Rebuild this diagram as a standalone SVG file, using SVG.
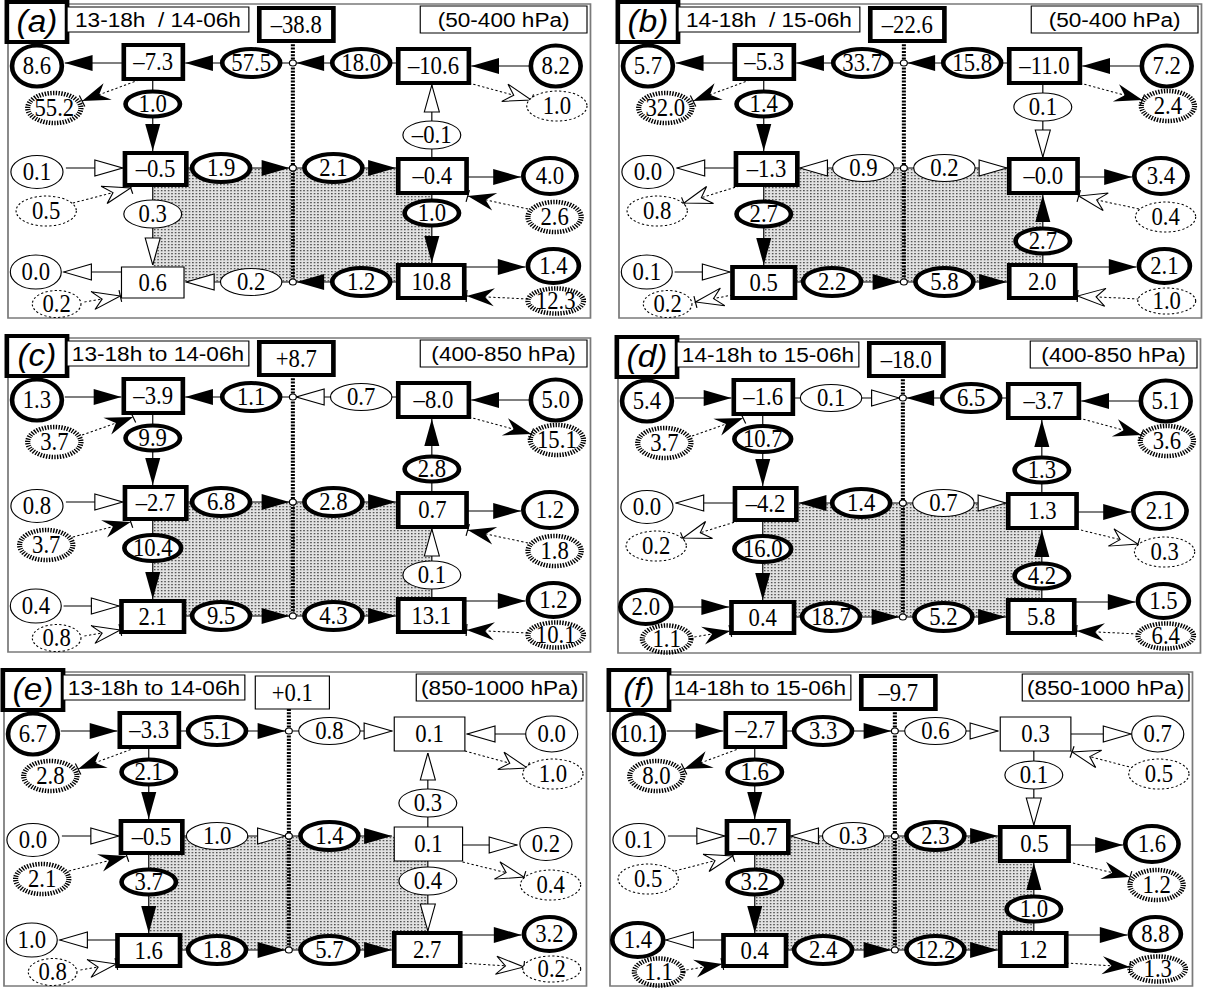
<svg xmlns="http://www.w3.org/2000/svg" width="1211" height="992" viewBox="0 0 1211 992">
<defs>
<style>
text{font-family:"Liberation Serif","Times New Roman",serif;font-size:24.5px;text-anchor:middle;fill:#000;transform-box:fill-box;transform-origin:center;transform:translate(0px,1.5px) scaleX(.8)}
text.s{font-family:"Liberation Sans",Arial,sans-serif;font-size:21px;transform:scaleX(.93)}
text.l{font-family:"Liberation Sans",Arial,sans-serif;font-size:32px;font-style:italic;transform:scaleX(.9)}
.fr{fill:#fff;stroke:#7a7a7a;stroke-width:1.5}
.sh{fill:url(#dots)}
.cl{fill:none;stroke:#000;stroke-width:3.5;stroke-dasharray:2 1.3}
.ln{fill:none;stroke:#000;stroke-width:1}
.ld{fill:none;stroke:#000;stroke-width:1;stroke-dasharray:2 2}
.hb{marker-end:url(#hb)}
.hw{marker-end:url(#hw)}
.vb{marker-end:url(#vb)}
.vw{marker-end:url(#vw)}
.nb{marker-end:url(#nb)}
.nw{marker-end:url(#nw)}
.k{fill:#fff;stroke:#000;stroke-width:4}
.n{fill:#fff;stroke:#000;stroke-width:1}
.dk{fill:#fff;stroke:#000;stroke-width:4.5;stroke-dasharray:1.2 1.2}
.dn{fill:#fff;stroke:#000;stroke-width:1;stroke-dasharray:2 2}
.jc{fill:#fff;stroke:#000;stroke-width:1}
</style>
<pattern id="dots" width="3" height="3" patternUnits="userSpaceOnUse"><rect width="3" height="3" fill="#e2e2e2"/><rect width="1.3" height="1.3" fill="#4a4a4a"/></pattern>
<marker id="hb" markerUnits="userSpaceOnUse" orient="auto" viewBox="-26 -10 27 20" markerWidth="27" markerHeight="20" refX="0" refY="0"><path d="M-24,-8L0,0L-24,8Z" fill="#000"/></marker>
<marker id="hw" markerUnits="userSpaceOnUse" orient="auto" viewBox="-26 -10 27 20" markerWidth="27" markerHeight="20" refX="0" refY="0"><path d="M-24,-8L0,0L-24,8Z" fill="#fff" stroke="#000" stroke-width="1"/></marker>
<marker id="vb" markerUnits="userSpaceOnUse" orient="auto" viewBox="-29 -8 30 16" markerWidth="30" markerHeight="16" refX="0" refY="0"><path d="M-27,-6.5L0,0L-27,6.5Z" fill="#000"/></marker>
<marker id="vw" markerUnits="userSpaceOnUse" orient="auto" viewBox="-29 -8 30 16" markerWidth="30" markerHeight="16" refX="0" refY="0"><path d="M-27,-6.5L0,0L-27,6.5Z" fill="#fff" stroke="#000" stroke-width="1"/></marker>
<marker id="nb" markerUnits="userSpaceOnUse" orient="auto" viewBox="-26 -10 28 20" markerWidth="28" markerHeight="20" refX="0" refY="0"><path d="M-24,-9L0,0L-24,9L-16,0Z" fill="#000"/><path d="M0,-6V6" stroke="#000" stroke-width="1"/></marker>
<marker id="nw" markerUnits="userSpaceOnUse" orient="auto" viewBox="-26 -10 28 20" markerWidth="28" markerHeight="20" refX="0" refY="0"><path d="M-24,-9L0,0L-24,9L-16,0Z" fill="#fff" stroke="#000" stroke-width="1"/><path d="M0,-6V6" stroke="#000" stroke-width="1"/></marker>
</defs>
<rect width="1211" height="992" fill="#fff"/>

<g id="panel-a" transform="translate(8,4) scale(1.158,1)">
<rect class="fr" x="0" y="0" width="503" height="314"/>
<rect class="sh" x="125" y="164" width="241" height="114"/>
<g id="a-connectors">
<path class="cl" d="M246,37V278"/>
<path class="ln hb" d="M100,59H49"/>
<path class="ln hb" d="M243,59H153"/>
<path class="ln hb" d="M337,59H249"/>
<path class="ln hb" d="M451,62H400"/>
<path class="ln vb" d="M125,75V147"/>
<path class="ln vw" d="M366,155V81"/>
<path class="ld nb" d="M113,76L64,97"/>
<path class="ld nw" d="M398,79L452,96"/>
<path class="ln hw" d="M50,164H99"/>
<path class="ln hb" d="M154,164H243"/>
<path class="ln hb" d="M249,164H335"/>
<path class="ln hb" d="M396,173H443"/>
<path class="ld nw" d="M56,199L106,184"/>
<path class="ld nb" d="M449,205L397,192"/>
<path class="ln vw" d="M125,181V261"/>
<path class="ln vb" d="M366,189V259"/>
<path class="ln hw" d="M98,268H48"/>
<path class="ln hw" d="M243,278H154"/>
<path class="ln hb" d="M337,278H249"/>
<path class="ln hb" d="M394,263H447"/>
<path class="ld nw" d="M66,298L97,292"/>
<path class="ld nb" d="M449,295L396,292"/>
</g>
<g id="a-title"><rect class="k" x="-1" y="-2" width="52" height="40"/><text class="l" x="25" y="28">(a)</text></g>
<g id="a-period"><rect class="n" x="51" y="3" width="157" height="25"/><text class="s" x="129.5" y="23.5" xml:space="preserve">13-18h  / 14-06h</text></g>
<g id="a-layer"><rect class="n" x="356" y="2" width="144" height="27"/><text class="s" x="428" y="23.5">(50-400 hPa)</text></g>
<g id="a-net"><rect class="k" x="217" y="4" width="64" height="33"/><text x="249" y="28">–38.8</text></g>
<g id="a-junctions"><circle class="jc" cx="246" cy="59" r="3"/><circle class="jc" cx="246" cy="164" r="3"/><circle class="jc" cx="246" cy="278" r="3"/></g>
<g id="a-TLo"><ellipse class="k" cx="25" cy="62" rx="21.5" ry="20.5"/><text x="25" y="69">8.6</text></g>
<g id="a-TLb"><rect class="k" x="100" y="41" width="51" height="34"/><text x="125.5" y="65">–7.3</text></g>
<g id="a-TLe"><ellipse class="k" cx="210" cy="59" rx="25" ry="14"/><text x="210" y="66">57.5</text></g>
<g id="a-TRe"><ellipse class="k" cx="305" cy="59" rx="25" ry="14"/><text x="305" y="66">18.0</text></g>
<g id="a-TRb"><rect class="k" x="337" y="45" width="61" height="34"/><text x="367.5" y="69">–10.6</text></g>
<g id="a-TRo"><ellipse class="k" cx="473" cy="62" rx="21.5" ry="20.5"/><text x="473" y="69">8.2</text></g>
<g id="a-TLd"><ellipse class="dk" cx="40" cy="104" rx="23" ry="15"/><text x="40" y="111">55.2</text></g>
<g id="a-TRd"><ellipse class="dn" cx="474" cy="102" rx="26" ry="15"/><text x="474" y="109">1.0</text></g>
<g id="a-TLv"><ellipse class="k" cx="125" cy="100" rx="23.5" ry="12.5"/><text x="125" y="107">1.0</text></g>
<g id="a-TRv"><ellipse class="n" cx="366" cy="131" rx="25" ry="14"/><text x="366" y="138">–0.1</text></g>
<g id="a-MLo"><ellipse class="n" cx="25" cy="168" rx="22.5" ry="16.5"/><text x="25" y="175">0.1</text></g>
<g id="a-MLb"><rect class="k" x="101" y="149" width="53" height="32"/><text x="127.5" y="172">–0.5</text></g>
<g id="a-MLe"><ellipse class="k" cx="184" cy="164" rx="25" ry="14"/><text x="184" y="171">1.9</text></g>
<g id="a-MRe"><ellipse class="k" cx="281" cy="164" rx="25" ry="14"/><text x="281" y="171">2.1</text></g>
<g id="a-MRb"><rect class="k" x="337" y="155" width="59" height="34"/><text x="366.5" y="179">–0.4</text></g>
<g id="a-MRo"><ellipse class="k" cx="468" cy="172" rx="23" ry="18"/><text x="468" y="179">4.0</text></g>
<g id="a-MLd"><ellipse class="dn" cx="33" cy="207" rx="26" ry="15"/><text x="33" y="214">0.5</text></g>
<g id="a-MRd"><ellipse class="dk" cx="472" cy="213" rx="23" ry="15"/><text x="472" y="220">2.6</text></g>
<g id="a-BLv"><ellipse class="n" cx="125" cy="210" rx="25" ry="14"/><text x="125" y="217">0.3</text></g>
<g id="a-BRv"><ellipse class="k" cx="366" cy="209" rx="23.5" ry="12.5"/><text x="366" y="216">1.0</text></g>
<g id="a-BLo"><ellipse class="n" cx="24" cy="268" rx="22" ry="17"/><text x="24" y="275">0.0</text></g>
<g id="a-BLb"><rect class="n" x="98" y="263" width="54" height="31"/><text x="125" y="285.5">0.6</text></g>
<g id="a-BLe"><ellipse class="n" cx="210" cy="278" rx="26.5" ry="13.5"/><text x="210" y="285">0.2</text></g>
<g id="a-BRe"><ellipse class="k" cx="305" cy="278" rx="25" ry="14"/><text x="305" y="285">1.2</text></g>
<g id="a-BRb"><rect class="k" x="337" y="261" width="57" height="33"/><text x="365.5" y="284.5">10.8</text></g>
<g id="a-BRo"><ellipse class="k" cx="471" cy="262" rx="22" ry="17"/><text x="471" y="269">1.4</text></g>
<g id="a-BLd"><ellipse class="dn" cx="42" cy="300" rx="21" ry="13.5"/><text x="42" y="307">0.2</text></g>
<g id="a-BRd"><ellipse class="dk" cx="473" cy="297" rx="24" ry="12.5"/><text x="473" y="304">12.3</text></g>
</g>

<g id="panel-b" transform="translate(619,4) scale(1.158,1)">
<rect class="fr" x="0" y="0" width="503" height="314"/>
<rect class="sh" x="125" y="164" width="241" height="114"/>
<g id="b-connectors">
<path class="cl" d="M246,37V278"/>
<path class="ln hb" d="M100,59H49"/>
<path class="ln hb" d="M243,59H153"/>
<path class="ln hb" d="M337,59H249"/>
<path class="ln hb" d="M451,62H400"/>
<path class="ln vb" d="M125,75V147"/>
<path class="ln vw" d="M366,79V153"/>
<path class="ld nb" d="M113,76L64,97"/>
<path class="ld nb" d="M398,79L452,96"/>
<path class="ln hw" d="M101,164H50"/>
<path class="ln hw" d="M243,164H156"/>
<path class="ln hw" d="M249,164H335"/>
<path class="ln hb" d="M396,173H443"/>
<path class="ld nw" d="M104,182L56,199"/>
<path class="ld nw" d="M449,205L397,192"/>
<path class="ln vb" d="M125,181V261"/>
<path class="ln vb" d="M366,261V191"/>
<path class="ln hw" d="M48,268H96"/>
<path class="ln hb" d="M152,278H243"/>
<path class="ln hb" d="M249,278H335"/>
<path class="ln hb" d="M394,263H447"/>
<path class="ld nw" d="M98,291L66,298"/>
<path class="ld nw" d="M449,295L396,292"/>
</g>
<g id="b-title"><rect class="k" x="-1" y="-2" width="52" height="40"/><text class="l" x="25" y="28">(b)</text></g>
<g id="b-period"><rect class="n" x="51" y="3" width="157" height="25"/><text class="s" x="129.5" y="23.5" xml:space="preserve">14-18h  / 15-06h</text></g>
<g id="b-layer"><rect class="n" x="356" y="2" width="144" height="27"/><text class="s" x="428" y="23.5">(50-400 hPa)</text></g>
<g id="b-net"><rect class="k" x="217" y="4" width="64" height="33"/><text x="249" y="28">–22.6</text></g>
<g id="b-junctions"><circle class="jc" cx="246" cy="59" r="3"/><circle class="jc" cx="246" cy="164" r="3"/><circle class="jc" cx="246" cy="278" r="3"/></g>
<g id="b-TLo"><ellipse class="k" cx="25" cy="62" rx="21.5" ry="20.5"/><text x="25" y="69">5.7</text></g>
<g id="b-TLb"><rect class="k" x="100" y="41" width="51" height="34"/><text x="125.5" y="65">–5.3</text></g>
<g id="b-TLe"><ellipse class="k" cx="210" cy="59" rx="25" ry="14"/><text x="210" y="66">33.7</text></g>
<g id="b-TRe"><ellipse class="k" cx="305" cy="59" rx="25" ry="14"/><text x="305" y="66">15.8</text></g>
<g id="b-TRb"><rect class="k" x="337" y="45" width="61" height="34"/><text x="367.5" y="69">–11.0</text></g>
<g id="b-TRo"><ellipse class="k" cx="473" cy="62" rx="21.5" ry="20.5"/><text x="473" y="69">7.2</text></g>
<g id="b-TLd"><ellipse class="dk" cx="40" cy="104" rx="23" ry="15"/><text x="40" y="111">32.0</text></g>
<g id="b-TRd"><ellipse class="dk" cx="474" cy="102" rx="23" ry="15"/><text x="474" y="109">2.4</text></g>
<g id="b-TLv"><ellipse class="k" cx="125" cy="100" rx="23.5" ry="12.5"/><text x="125" y="107">1.4</text></g>
<g id="b-TRv"><ellipse class="n" cx="366" cy="103" rx="25" ry="14"/><text x="366" y="110">0.1</text></g>
<g id="b-MLo"><ellipse class="n" cx="25" cy="168" rx="22.5" ry="16.5"/><text x="25" y="175">0.0</text></g>
<g id="b-MLb"><rect class="k" x="101" y="149" width="53" height="32"/><text x="127.5" y="172">–1.3</text></g>
<g id="b-MLe"><ellipse class="n" cx="211" cy="164" rx="26.5" ry="13.5"/><text x="211" y="171">0.9</text></g>
<g id="b-MRe"><ellipse class="n" cx="281" cy="164" rx="26.5" ry="13.5"/><text x="281" y="171">0.2</text></g>
<g id="b-MRb"><rect class="k" x="337" y="155" width="59" height="34"/><text x="366.5" y="179">–0.0</text></g>
<g id="b-MRo"><ellipse class="k" cx="468" cy="172" rx="23" ry="18"/><text x="468" y="179">3.4</text></g>
<g id="b-MLd"><ellipse class="dn" cx="33" cy="207" rx="26" ry="15"/><text x="33" y="214">0.8</text></g>
<g id="b-MRd"><ellipse class="dn" cx="472" cy="213" rx="26" ry="15"/><text x="472" y="220">0.4</text></g>
<g id="b-BLv"><ellipse class="k" cx="125" cy="210" rx="23.5" ry="12.5"/><text x="125" y="217">2.7</text></g>
<g id="b-BRv"><ellipse class="k" cx="366" cy="237" rx="23.5" ry="12.5"/><text x="366" y="244">2.7</text></g>
<g id="b-BLo"><ellipse class="n" cx="24" cy="268" rx="22" ry="17"/><text x="24" y="275">0.1</text></g>
<g id="b-BLb"><rect class="k" x="98" y="263" width="54" height="31"/><text x="125" y="285.5">0.5</text></g>
<g id="b-BLe"><ellipse class="k" cx="184" cy="278" rx="25" ry="14"/><text x="184" y="285">2.2</text></g>
<g id="b-BRe"><ellipse class="k" cx="281" cy="278" rx="25" ry="14"/><text x="281" y="285">5.8</text></g>
<g id="b-BRb"><rect class="k" x="337" y="261" width="57" height="33"/><text x="365.5" y="284.5">2.0</text></g>
<g id="b-BRo"><ellipse class="k" cx="471" cy="262" rx="22" ry="17"/><text x="471" y="269">2.1</text></g>
<g id="b-BLd"><ellipse class="dn" cx="42" cy="300" rx="21" ry="13.5"/><text x="42" y="307">0.2</text></g>
<g id="b-BRd"><ellipse class="dn" cx="473" cy="297" rx="25" ry="13"/><text x="473" y="304">1.0</text></g>
</g>

<g id="panel-c" transform="translate(8,338) scale(1.158,1)">
<rect class="fr" x="0" y="0" width="503" height="314"/>
<rect class="sh" x="125" y="164" width="241" height="114"/>
<g id="c-connectors">
<path class="cl" d="M246,37V278"/>
<path class="ln hb" d="M49,59H98"/>
<path class="ln hb" d="M243,59H153"/>
<path class="ln hw" d="M337,59H249"/>
<path class="ln hb" d="M451,62H400"/>
<path class="ln vb" d="M125,75V147"/>
<path class="ln vb" d="M366,155V81"/>
<path class="ld nb" d="M64,97L108,79"/>
<path class="ld nb" d="M398,79L452,96"/>
<path class="ln hw" d="M50,164H99"/>
<path class="ln hb" d="M154,164H243"/>
<path class="ln hb" d="M249,164H335"/>
<path class="ln hb" d="M396,173H443"/>
<path class="ld nb" d="M56,199L106,184"/>
<path class="ld nb" d="M449,205L397,192"/>
<path class="ln vb" d="M125,181V261"/>
<path class="ln vw" d="M366,261V191"/>
<path class="ln hw" d="M48,268H96"/>
<path class="ln hb" d="M152,278H243"/>
<path class="ln hb" d="M249,278H335"/>
<path class="ln hb" d="M394,263H447"/>
<path class="ld nw" d="M66,298L97,292"/>
<path class="ld nb" d="M449,295L396,292"/>
</g>
<g id="c-title"><rect class="k" x="-1" y="-2" width="52" height="40"/><text class="l" x="25" y="28">(c)</text></g>
<g id="c-period"><rect class="n" x="51" y="3" width="157" height="25"/><text class="s" x="129.5" y="23.5">13-18h to 14-06h</text></g>
<g id="c-layer"><rect class="n" x="356" y="2" width="144" height="27"/><text class="s" x="428" y="23.5">(400-850 hPa)</text></g>
<g id="c-net"><rect class="k" x="217" y="4" width="64" height="33"/><text x="249" y="28">+8.7</text></g>
<g id="c-junctions"><circle class="jc" cx="246" cy="59" r="3"/><circle class="jc" cx="246" cy="164" r="3"/><circle class="jc" cx="246" cy="278" r="3"/></g>
<g id="c-TLo"><ellipse class="k" cx="25" cy="62" rx="21.5" ry="20.5"/><text x="25" y="69">1.3</text></g>
<g id="c-TLb"><rect class="k" x="100" y="41" width="51" height="34"/><text x="125.5" y="65">–3.9</text></g>
<g id="c-TLe"><ellipse class="k" cx="210" cy="59" rx="25" ry="14"/><text x="210" y="66">1.1</text></g>
<g id="c-TRe"><ellipse class="n" cx="305" cy="59" rx="26.5" ry="13.5"/><text x="305" y="66">0.7</text></g>
<g id="c-TRb"><rect class="k" x="337" y="45" width="61" height="34"/><text x="367.5" y="69">–8.0</text></g>
<g id="c-TRo"><ellipse class="k" cx="473" cy="62" rx="21.5" ry="20.5"/><text x="473" y="69">5.0</text></g>
<g id="c-TLd"><ellipse class="dk" cx="40" cy="104" rx="23" ry="15"/><text x="40" y="111">3.7</text></g>
<g id="c-TRd"><ellipse class="dk" cx="474" cy="102" rx="23" ry="15"/><text x="474" y="109">15.1</text></g>
<g id="c-TLv"><ellipse class="k" cx="125" cy="100" rx="23.5" ry="12.5"/><text x="125" y="107">9.9</text></g>
<g id="c-TRv"><ellipse class="k" cx="366" cy="131" rx="23.5" ry="12.5"/><text x="366" y="138">2.8</text></g>
<g id="c-MLo"><ellipse class="n" cx="25" cy="168" rx="22.5" ry="16.5"/><text x="25" y="175">0.8</text></g>
<g id="c-MLb"><rect class="k" x="101" y="149" width="53" height="32"/><text x="127.5" y="172">–2.7</text></g>
<g id="c-MLe"><ellipse class="k" cx="184" cy="164" rx="25" ry="14"/><text x="184" y="171">6.8</text></g>
<g id="c-MRe"><ellipse class="k" cx="281" cy="164" rx="25" ry="14"/><text x="281" y="171">2.8</text></g>
<g id="c-MRb"><rect class="k" x="337" y="155" width="59" height="34"/><text x="366.5" y="179">0.7</text></g>
<g id="c-MRo"><ellipse class="k" cx="468" cy="172" rx="23" ry="18"/><text x="468" y="179">1.2</text></g>
<g id="c-MLd"><ellipse class="dk" cx="33" cy="207" rx="23" ry="15"/><text x="33" y="214">3.7</text></g>
<g id="c-MRd"><ellipse class="dk" cx="472" cy="213" rx="23" ry="15"/><text x="472" y="220">1.8</text></g>
<g id="c-BLv"><ellipse class="k" cx="125" cy="210" rx="24.5" ry="13"/><text x="125" y="217">10.4</text></g>
<g id="c-BRv"><ellipse class="n" cx="366" cy="237" rx="25" ry="14"/><text x="366" y="244">0.1</text></g>
<g id="c-BLo"><ellipse class="n" cx="24" cy="268" rx="22" ry="17"/><text x="24" y="275">0.4</text></g>
<g id="c-BLb"><rect class="k" x="98" y="263" width="54" height="31"/><text x="125" y="285.5">2.1</text></g>
<g id="c-BLe"><ellipse class="k" cx="184" cy="278" rx="25" ry="14"/><text x="184" y="285">9.5</text></g>
<g id="c-BRe"><ellipse class="k" cx="281" cy="278" rx="25" ry="14"/><text x="281" y="285">4.3</text></g>
<g id="c-BRb"><rect class="k" x="337" y="261" width="57" height="33"/><text x="365.5" y="284.5">13.1</text></g>
<g id="c-BRo"><ellipse class="k" cx="471" cy="262" rx="22" ry="17"/><text x="471" y="269">1.2</text></g>
<g id="c-BLd"><ellipse class="dn" cx="42" cy="300" rx="21" ry="13.5"/><text x="42" y="307">0.8</text></g>
<g id="c-BRd"><ellipse class="dk" cx="473" cy="297" rx="24" ry="12.5"/><text x="473" y="304">10.1</text></g>
</g>

<g id="panel-d" transform="translate(618,339) scale(1.158,1)">
<rect class="fr" x="0" y="0" width="503" height="314"/>
<rect class="sh" x="125" y="164" width="241" height="114"/>
<g id="d-connectors">
<path class="cl" d="M246,37V278"/>
<path class="ln hb" d="M49,59H98"/>
<path class="ln hw" d="M151,59H243"/>
<path class="ln hb" d="M337,59H249"/>
<path class="ln hb" d="M451,62H400"/>
<path class="ln vb" d="M125,75V147"/>
<path class="ln vb" d="M366,155V81"/>
<path class="ld nb" d="M64,97L108,79"/>
<path class="ld nb" d="M398,79L452,96"/>
<path class="ln hw" d="M101,164H50"/>
<path class="ln hb" d="M243,164H156"/>
<path class="ln hw" d="M249,164H335"/>
<path class="ln hb" d="M396,173H443"/>
<path class="ld nw" d="M104,182L56,199"/>
<path class="ld nw" d="M396,190L449,205"/>
<path class="ln vb" d="M125,181V261"/>
<path class="ln vb" d="M366,261V191"/>
<path class="ln hb" d="M48,268H96"/>
<path class="ln hb" d="M152,278H243"/>
<path class="ln hb" d="M249,278H335"/>
<path class="ln hb" d="M394,263H447"/>
<path class="ld nb" d="M66,298L97,292"/>
<path class="ld nb" d="M449,295L396,292"/>
</g>
<g id="d-title"><rect class="k" x="-1" y="-2" width="52" height="40"/><text class="l" x="25" y="28">(d)</text></g>
<g id="d-period"><rect class="n" x="51" y="3" width="157" height="25"/><text class="s" x="129.5" y="23.5">14-18h to 15-06h</text></g>
<g id="d-layer"><rect class="n" x="356" y="2" width="144" height="27"/><text class="s" x="428" y="23.5">(400-850 hPa)</text></g>
<g id="d-net"><rect class="k" x="217" y="4" width="64" height="33"/><text x="249" y="28">–18.0</text></g>
<g id="d-junctions"><circle class="jc" cx="246" cy="59" r="3"/><circle class="jc" cx="246" cy="164" r="3"/><circle class="jc" cx="246" cy="278" r="3"/></g>
<g id="d-TLo"><ellipse class="k" cx="25" cy="62" rx="21.5" ry="20.5"/><text x="25" y="69">5.4</text></g>
<g id="d-TLb"><rect class="k" x="100" y="41" width="51" height="34"/><text x="125.5" y="65">–1.6</text></g>
<g id="d-TLe"><ellipse class="n" cx="184" cy="59" rx="26.5" ry="13.5"/><text x="184" y="66">0.1</text></g>
<g id="d-TRe"><ellipse class="k" cx="305" cy="59" rx="25" ry="14"/><text x="305" y="66">6.5</text></g>
<g id="d-TRb"><rect class="k" x="337" y="45" width="61" height="34"/><text x="367.5" y="69">–3.7</text></g>
<g id="d-TRo"><ellipse class="k" cx="473" cy="62" rx="21.5" ry="20.5"/><text x="473" y="69">5.1</text></g>
<g id="d-TLd"><ellipse class="dk" cx="40" cy="104" rx="23" ry="15"/><text x="40" y="111">3.7</text></g>
<g id="d-TRd"><ellipse class="dk" cx="474" cy="102" rx="23" ry="15"/><text x="474" y="109">3.6</text></g>
<g id="d-TLv"><ellipse class="k" cx="125" cy="100" rx="24.5" ry="13"/><text x="125" y="107">10.7</text></g>
<g id="d-TRv"><ellipse class="k" cx="366" cy="131" rx="23.5" ry="12.5"/><text x="366" y="138">1.3</text></g>
<g id="d-MLo"><ellipse class="n" cx="25" cy="168" rx="22.5" ry="16.5"/><text x="25" y="175">0.0</text></g>
<g id="d-MLb"><rect class="k" x="101" y="149" width="53" height="32"/><text x="127.5" y="172">–4.2</text></g>
<g id="d-MLe"><ellipse class="k" cx="210" cy="164" rx="25" ry="14"/><text x="210" y="171">1.4</text></g>
<g id="d-MRe"><ellipse class="n" cx="281" cy="164" rx="26.5" ry="13.5"/><text x="281" y="171">0.7</text></g>
<g id="d-MRb"><rect class="k" x="337" y="155" width="59" height="34"/><text x="366.5" y="179">1.3</text></g>
<g id="d-MRo"><ellipse class="k" cx="468" cy="172" rx="23" ry="18"/><text x="468" y="179">2.1</text></g>
<g id="d-MLd"><ellipse class="dn" cx="33" cy="207" rx="26" ry="15"/><text x="33" y="214">0.2</text></g>
<g id="d-MRd"><ellipse class="dn" cx="472" cy="213" rx="26" ry="15"/><text x="472" y="220">0.3</text></g>
<g id="d-BLv"><ellipse class="k" cx="125" cy="210" rx="24.5" ry="13"/><text x="125" y="217">16.0</text></g>
<g id="d-BRv"><ellipse class="k" cx="366" cy="237" rx="23.5" ry="12.5"/><text x="366" y="244">4.2</text></g>
<g id="d-BLo"><ellipse class="k" cx="24" cy="268" rx="22" ry="17"/><text x="24" y="275">2.0</text></g>
<g id="d-BLb"><rect class="k" x="98" y="263" width="54" height="31"/><text x="125" y="285.5">0.4</text></g>
<g id="d-BLe"><ellipse class="k" cx="184" cy="278" rx="25" ry="14"/><text x="184" y="285">18.7</text></g>
<g id="d-BRe"><ellipse class="k" cx="281" cy="278" rx="25" ry="14"/><text x="281" y="285">5.2</text></g>
<g id="d-BRb"><rect class="k" x="337" y="261" width="57" height="33"/><text x="365.5" y="284.5">5.8</text></g>
<g id="d-BRo"><ellipse class="k" cx="471" cy="262" rx="22" ry="17"/><text x="471" y="269">1.5</text></g>
<g id="d-BLd"><ellipse class="dk" cx="42" cy="300" rx="21" ry="13.5"/><text x="42" y="307">1.1</text></g>
<g id="d-BRd"><ellipse class="dk" cx="473" cy="297" rx="24" ry="12.5"/><text x="473" y="304">6.4</text></g>
</g>

<g id="panel-e" transform="translate(4,672) scale(1.158,1)">
<rect class="fr" x="0" y="0" width="503" height="314"/>
<rect class="sh" x="125" y="164" width="241" height="114"/>
<g id="e-connectors">
<path class="cl" d="M246,37V278"/>
<path class="ln hb" d="M49,59H98"/>
<path class="ln hb" d="M151,59H243"/>
<path class="ln hw" d="M249,59H335"/>
<path class="ln hw" d="M451,62H400"/>
<path class="ln vb" d="M125,75V147"/>
<path class="ln vw" d="M366,155V81"/>
<path class="ld nb" d="M113,76L64,97"/>
<path class="ld nw" d="M398,79L452,96"/>
<path class="ln hw" d="M50,164H99"/>
<path class="ln hw" d="M154,164H243"/>
<path class="ln hb" d="M249,164H335"/>
<path class="ln hw" d="M396,173H443"/>
<path class="ld nb" d="M56,199L106,184"/>
<path class="ld nw" d="M396,190L449,205"/>
<path class="ln vb" d="M125,181V261"/>
<path class="ln vw" d="M366,189V259"/>
<path class="ln hw" d="M98,268H48"/>
<path class="ln hb" d="M152,278H243"/>
<path class="ln hb" d="M249,278H335"/>
<path class="ln hb" d="M394,263H447"/>
<path class="ld nw" d="M66,298L97,292"/>
<path class="ld nw" d="M394,291L449,295"/>
</g>
<g id="e-title"><rect class="k" x="-1" y="-2" width="52" height="40"/><text class="l" x="25" y="28">(e)</text></g>
<g id="e-period"><rect class="n" x="51" y="3" width="157" height="25"/><text class="s" x="129.5" y="23.5">13-18h to 14-06h</text></g>
<g id="e-layer"><rect class="n" x="356" y="2" width="144" height="27"/><text class="s" x="428" y="23.5">(850-1000 hPa)</text></g>
<g id="e-net"><rect class="n" x="217" y="4" width="64" height="33"/><text x="249" y="28">+0.1</text></g>
<g id="e-junctions"><circle class="jc" cx="246" cy="59" r="3"/><circle class="jc" cx="246" cy="164" r="3"/><circle class="jc" cx="246" cy="278" r="3"/></g>
<g id="e-TLo"><ellipse class="k" cx="25" cy="62" rx="21.5" ry="20.5"/><text x="25" y="69">6.7</text></g>
<g id="e-TLb"><rect class="k" x="100" y="41" width="51" height="34"/><text x="125.5" y="65">–3.3</text></g>
<g id="e-TLe"><ellipse class="k" cx="184" cy="59" rx="25" ry="14"/><text x="184" y="66">5.1</text></g>
<g id="e-TRe"><ellipse class="n" cx="281" cy="59" rx="26.5" ry="13.5"/><text x="281" y="66">0.8</text></g>
<g id="e-TRb"><rect class="n" x="337" y="45" width="61" height="34"/><text x="367.5" y="69">0.1</text></g>
<g id="e-TRo"><ellipse class="n" cx="473" cy="62" rx="22.5" ry="18"/><text x="473" y="69">0.0</text></g>
<g id="e-TLd"><ellipse class="dk" cx="40" cy="104" rx="23" ry="15"/><text x="40" y="111">2.8</text></g>
<g id="e-TRd"><ellipse class="dn" cx="474" cy="102" rx="26" ry="15"/><text x="474" y="109">1.0</text></g>
<g id="e-TLv"><ellipse class="k" cx="125" cy="100" rx="23.5" ry="12.5"/><text x="125" y="107">2.1</text></g>
<g id="e-TRv"><ellipse class="n" cx="366" cy="131" rx="25" ry="14"/><text x="366" y="138">0.3</text></g>
<g id="e-MLo"><ellipse class="n" cx="25" cy="168" rx="22.5" ry="16.5"/><text x="25" y="175">0.0</text></g>
<g id="e-MLb"><rect class="k" x="101" y="149" width="53" height="32"/><text x="127.5" y="172">–0.5</text></g>
<g id="e-MLe"><ellipse class="n" cx="184" cy="164" rx="26.5" ry="13.5"/><text x="184" y="171">1.0</text></g>
<g id="e-MRe"><ellipse class="k" cx="281" cy="164" rx="25" ry="14"/><text x="281" y="171">1.4</text></g>
<g id="e-MRb"><rect class="n" x="337" y="155" width="59" height="34"/><text x="366.5" y="179">0.1</text></g>
<g id="e-MRo"><ellipse class="n" cx="468" cy="172" rx="22.5" ry="16.5"/><text x="468" y="179">0.2</text></g>
<g id="e-MLd"><ellipse class="dk" cx="33" cy="207" rx="23" ry="15"/><text x="33" y="214">2.1</text></g>
<g id="e-MRd"><ellipse class="dn" cx="472" cy="213" rx="26" ry="15"/><text x="472" y="220">0.4</text></g>
<g id="e-BLv"><ellipse class="k" cx="125" cy="210" rx="23.5" ry="12.5"/><text x="125" y="217">3.7</text></g>
<g id="e-BRv"><ellipse class="n" cx="366" cy="209" rx="25" ry="14"/><text x="366" y="216">0.4</text></g>
<g id="e-BLo"><ellipse class="n" cx="24" cy="268" rx="22" ry="17"/><text x="24" y="275">1.0</text></g>
<g id="e-BLb"><rect class="k" x="98" y="263" width="54" height="31"/><text x="125" y="285.5">1.6</text></g>
<g id="e-BLe"><ellipse class="k" cx="184" cy="278" rx="25" ry="14"/><text x="184" y="285">1.8</text></g>
<g id="e-BRe"><ellipse class="k" cx="281" cy="278" rx="25" ry="14"/><text x="281" y="285">5.7</text></g>
<g id="e-BRb"><rect class="k" x="337" y="261" width="57" height="33"/><text x="365.5" y="284.5">2.7</text></g>
<g id="e-BRo"><ellipse class="k" cx="471" cy="262" rx="22" ry="17"/><text x="471" y="269">3.2</text></g>
<g id="e-BLd"><ellipse class="dn" cx="42" cy="300" rx="21" ry="13.5"/><text x="42" y="307">0.8</text></g>
<g id="e-BRd"><ellipse class="dn" cx="473" cy="297" rx="25" ry="13"/><text x="473" y="304">0.2</text></g>
</g>

<g id="panel-f" transform="translate(610,672) scale(1.158,1)">
<rect class="fr" x="0" y="0" width="503" height="314"/>
<rect class="sh" x="125" y="164" width="241" height="114"/>
<g id="f-connectors">
<path class="cl" d="M246,37V278"/>
<path class="ln hb" d="M49,59H98"/>
<path class="ln hb" d="M151,59H243"/>
<path class="ln hw" d="M249,59H335"/>
<path class="ln hw" d="M398,62H450"/>
<path class="ln vb" d="M125,75V147"/>
<path class="ln vw" d="M366,79V153"/>
<path class="ld nb" d="M113,76L64,97"/>
<path class="ld nw" d="M452,96L399,80"/>
<path class="ln hw" d="M50,164H99"/>
<path class="ln hw" d="M243,164H156"/>
<path class="ln hb" d="M249,164H335"/>
<path class="ln hb" d="M396,173H443"/>
<path class="ld nw" d="M56,199L106,184"/>
<path class="ld nb" d="M396,190L449,205"/>
<path class="ln vb" d="M125,181V261"/>
<path class="ln vb" d="M366,261V191"/>
<path class="ln hw" d="M98,268H48"/>
<path class="ln hb" d="M152,278H243"/>
<path class="ln hb" d="M249,278H335"/>
<path class="ln hb" d="M394,263H447"/>
<path class="ld nb" d="M66,298L97,292"/>
<path class="ld nb" d="M394,291L449,295"/>
</g>
<g id="f-title"><rect class="k" x="-1" y="-2" width="52" height="40"/><text class="l" x="25" y="28">(f)</text></g>
<g id="f-period"><rect class="n" x="51" y="3" width="157" height="25"/><text class="s" x="129.5" y="23.5">14-18h to 15-06h</text></g>
<g id="f-layer"><rect class="n" x="356" y="2" width="144" height="27"/><text class="s" x="428" y="23.5">(850-1000 hPa)</text></g>
<g id="f-net"><rect class="k" x="217" y="4" width="64" height="33"/><text x="249" y="28">–9.7</text></g>
<g id="f-junctions"><circle class="jc" cx="246" cy="59" r="3"/><circle class="jc" cx="246" cy="164" r="3"/><circle class="jc" cx="246" cy="278" r="3"/></g>
<g id="f-TLo"><ellipse class="k" cx="25" cy="62" rx="21.5" ry="20.5"/><text x="25" y="69">10.1</text></g>
<g id="f-TLb"><rect class="k" x="100" y="41" width="51" height="34"/><text x="125.5" y="65">–2.7</text></g>
<g id="f-TLe"><ellipse class="k" cx="184" cy="59" rx="25" ry="14"/><text x="184" y="66">3.3</text></g>
<g id="f-TRe"><ellipse class="n" cx="281" cy="59" rx="26.5" ry="13.5"/><text x="281" y="66">0.6</text></g>
<g id="f-TRb"><rect class="n" x="337" y="45" width="61" height="34"/><text x="367.5" y="69">0.3</text></g>
<g id="f-TRo"><ellipse class="n" cx="473" cy="62" rx="22.5" ry="18"/><text x="473" y="69">0.7</text></g>
<g id="f-TLd"><ellipse class="dk" cx="40" cy="104" rx="23" ry="15"/><text x="40" y="111">8.0</text></g>
<g id="f-TRd"><ellipse class="dn" cx="474" cy="102" rx="26" ry="15"/><text x="474" y="109">0.5</text></g>
<g id="f-TLv"><ellipse class="k" cx="125" cy="100" rx="23.5" ry="12.5"/><text x="125" y="107">1.6</text></g>
<g id="f-TRv"><ellipse class="n" cx="366" cy="103" rx="25" ry="14"/><text x="366" y="110">0.1</text></g>
<g id="f-MLo"><ellipse class="n" cx="25" cy="168" rx="22.5" ry="16.5"/><text x="25" y="175">0.1</text></g>
<g id="f-MLb"><rect class="k" x="101" y="149" width="53" height="32"/><text x="127.5" y="172">–0.7</text></g>
<g id="f-MLe"><ellipse class="n" cx="210" cy="164" rx="26.5" ry="13.5"/><text x="210" y="171">0.3</text></g>
<g id="f-MRe"><ellipse class="k" cx="281" cy="164" rx="25" ry="14"/><text x="281" y="171">2.3</text></g>
<g id="f-MRb"><rect class="k" x="337" y="155" width="59" height="34"/><text x="366.5" y="179">0.5</text></g>
<g id="f-MRo"><ellipse class="k" cx="468" cy="172" rx="23" ry="18"/><text x="468" y="179">1.6</text></g>
<g id="f-MLd"><ellipse class="dn" cx="33" cy="207" rx="26" ry="15"/><text x="33" y="214">0.5</text></g>
<g id="f-MRd"><ellipse class="dk" cx="472" cy="213" rx="23" ry="15"/><text x="472" y="220">1.2</text></g>
<g id="f-BLv"><ellipse class="k" cx="125" cy="210" rx="23.5" ry="12.5"/><text x="125" y="217">3.2</text></g>
<g id="f-BRv"><ellipse class="k" cx="366" cy="237" rx="23.5" ry="12.5"/><text x="366" y="244">1.0</text></g>
<g id="f-BLo"><ellipse class="k" cx="24" cy="268" rx="22" ry="17"/><text x="24" y="275">1.4</text></g>
<g id="f-BLb"><rect class="k" x="98" y="263" width="54" height="31"/><text x="125" y="285.5">0.4</text></g>
<g id="f-BLe"><ellipse class="k" cx="184" cy="278" rx="25" ry="14"/><text x="184" y="285">2.4</text></g>
<g id="f-BRe"><ellipse class="k" cx="281" cy="278" rx="25" ry="14"/><text x="281" y="285">12.2</text></g>
<g id="f-BRb"><rect class="k" x="337" y="261" width="57" height="33"/><text x="365.5" y="284.5">1.2</text></g>
<g id="f-BRo"><ellipse class="k" cx="471" cy="262" rx="22" ry="17"/><text x="471" y="269">8.8</text></g>
<g id="f-BLd"><ellipse class="dk" cx="42" cy="300" rx="21" ry="13.5"/><text x="42" y="307">1.1</text></g>
<g id="f-BRd"><ellipse class="dk" cx="473" cy="297" rx="24" ry="12.5"/><text x="473" y="304">1.3</text></g>
</g>
</svg>
